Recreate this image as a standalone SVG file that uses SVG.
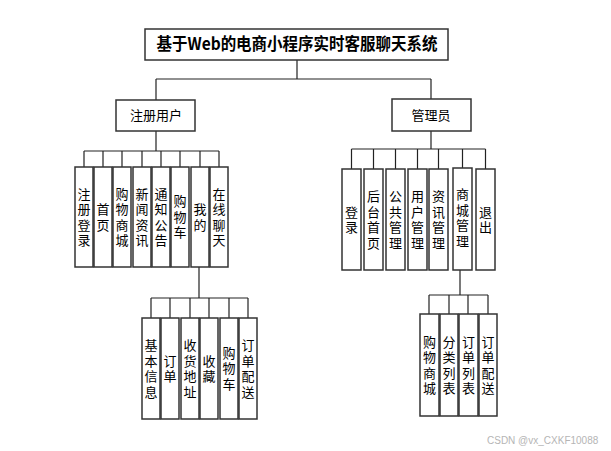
<svg xmlns="http://www.w3.org/2000/svg" width="611" height="451" viewBox="0 0 611 451">
<style>
.bx{fill:#fff;stroke:#333;stroke-width:1.5}
.ln{fill:none;stroke:#222;stroke-width:1.2}
.t{font-family:"Noto Sans CJK SC","Noto Sans",sans-serif;font-size:13px;fill:#000;text-anchor:middle}
.v{font-family:"Noto Sans CJK SC","Noto Sans",sans-serif;font-size:13px;fill:#000;text-anchor:middle;writing-mode:vertical-rl;text-orientation:upright;letter-spacing:2.5px}
.tt{font-family:"Noto Sans CJK SC","Noto Sans",sans-serif;font-size:16.5px;font-weight:bold;fill:#000;text-anchor:middle}
.wm{font-family:"Liberation Sans","Noto Sans",sans-serif;font-size:10px;fill:#b5b5b5}
</style>
<rect width="611" height="451" fill="#fff"/>
<g id="connectors">
<path class="ln" d="M297 60V79M156 79H431M156 79V100M431 79V99"/>
<path class="ln" d="M156 131V151M84 151H219M84 151V167M103 151V167M122 151V167M142 151V167M161 151V167M180 151V167M200 151V167M219 151V167"/>
<path class="ln" d="M431 131V149M351.5 149H485.5M351.5 149V169M373.5 149V169M395.5 149V169M417.5 149V169M438.5 149V169M462.5 149V169M485.5 149V169"/>
<path class="ln" d="M199 267V298M151 298H248M151 298V318M170 298V318M190 298V318M209 298V318M229 298V318M248 298V318"/>
<path class="ln" d="M460 270V295M429 295H488M429 295V314M449 295V314M468 295V314M488 295V314"/>
</g>
<g id="root"><rect class="bx" x="145" y="29" width="303" height="31"/><text class="tt" x="297" y="50" textLength="281" lengthAdjust="spacingAndGlyphs">基于Web的电商小程序实时客服聊天系统</text></g>
<g id="user"><rect class="bx" x="116" y="100" width="79" height="31"/><text class="t" x="156" y="120">注册用户</text></g>
<g id="admin"><rect class="bx" x="392" y="99" width="79" height="32"/><text class="t" x="431" y="120">管理员</text></g>

<g id="u1"><rect class="bx" x="75" y="167" width="18" height="100"/><text class="v" x="84" y="218.2">注册登录</text></g>
<g id="u2"><rect class="bx" x="94" y="167" width="18" height="100"/><text class="v" x="103" y="218.2">首页</text></g>
<g id="u3"><rect class="bx" x="113" y="167" width="18" height="100"/><text class="v" x="122" y="218.2">购物商城</text></g>
<g id="u4"><rect class="bx" x="133" y="167" width="18" height="100"/><text class="v" x="142" y="218.2">新闻资讯</text></g>
<g id="u5"><rect class="bx" x="152" y="167" width="18" height="100"/><text class="v" x="161" y="218.2">通知公告</text></g>
<g id="u6"><rect class="bx" x="171" y="167" width="18" height="100"/><text class="v" x="180" y="218.2">购物车</text></g>
<g id="u7"><rect class="bx" x="191" y="167" width="18" height="100"/><text class="v" x="200" y="218.2">我的</text></g>
<g id="u8"><rect class="bx" x="210" y="167" width="18" height="100"/><text class="v" x="219" y="218.2">在线聊天</text></g>

<g id="a1"><rect class="bx" x="342" y="169" width="19" height="101"/><text class="v" x="351.5" y="220.7">登录</text></g>
<g id="a2"><rect class="bx" x="364" y="169" width="19" height="101"/><text class="v" x="373.5" y="220.7">后台首页</text></g>
<g id="a3"><rect class="bx" x="386" y="169" width="19" height="101"/><text class="v" x="395.5" y="220.7">公共管理</text></g>
<g id="a4"><rect class="bx" x="408" y="169" width="19" height="101"/><text class="v" x="417.5" y="220.7">用户管理</text></g>
<g id="a5"><rect class="bx" x="429" y="169" width="19" height="101"/><text class="v" x="438.5" y="220.7">资讯管理</text></g>
<g id="a6"><rect class="bx" x="453" y="168" width="19" height="102"/><text class="v" x="462.5" y="219">商城管理</text></g>
<g id="a7"><rect class="bx" x="476" y="169" width="19" height="101"/><text class="v" x="485.5" y="220.7">退出</text></g>

<g id="m1"><rect class="bx" x="142" y="318" width="18" height="101"/><text class="v" x="151" y="369.7">基本信息</text></g>
<g id="m2"><rect class="bx" x="161" y="318" width="18" height="101"/><text class="v" x="170" y="369.7">订单</text></g>
<g id="m3"><rect class="bx" x="181" y="318" width="18" height="101"/><text class="v" x="190" y="369.7">收货地址</text></g>
<g id="m4"><rect class="bx" x="200" y="318" width="18" height="101"/><text class="v" x="209" y="369.7">收藏</text></g>
<g id="m5"><rect class="bx" x="220" y="318" width="18" height="101"/><text class="v" x="229" y="369.7">购物车</text></g>
<g id="m6"><rect class="bx" x="239" y="318" width="18" height="101"/><text class="v" x="248" y="369.7">订单配送</text></g>

<g id="s1"><rect class="bx" x="420" y="314" width="19" height="102"/><text class="v" x="429.5" y="366.2">购物商城</text></g>
<g id="s2"><rect class="bx" x="440" y="314" width="18" height="102"/><text class="v" x="449" y="366.2">分类列表</text></g>
<g id="s3"><rect class="bx" x="459" y="314" width="19" height="102"/><text class="v" x="468.5" y="366.2">订单列表</text></g>
<g id="s4"><rect class="bx" x="479" y="314" width="18" height="102"/><text class="v" x="488" y="366.2">订单配送</text></g>

<text class="wm" x="487" y="444">CSDN @vx_CXKF10088</text>
</svg>
